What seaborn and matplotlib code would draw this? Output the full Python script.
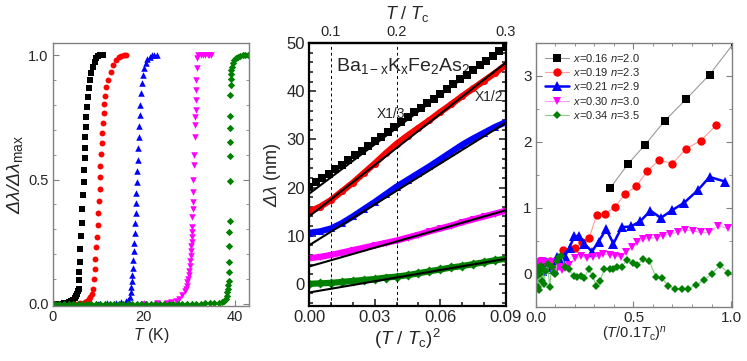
import matplotlib
matplotlib.use("Agg")
import matplotlib.pyplot as plt
import seaborn as sns
from matplotlib.ticker import MultipleLocator

# ---- left panel: normalised transitions, T (K) vs dlambda/dlambda_max ----
t_blk = [0.5, 1.5, 2.5, 3.0, 3.5, 4.0, 4.4, 4.8, 5.1, 5.4,
         5.6, 5.7, 5.8, 5.8, 6.0, 6.1, 6.2, 6.4, 6.5, 6.6,
         6.8, 6.9, 7.0, 7.1, 7.2, 7.3, 7.4, 7.5, 7.7, 7.9,
         8.2, 8.5, 8.8, 9.2, 9.6, 10.0, 10.5, 11.0]
y_blk = [0.0, 0.0, 0.002, 0.004, 0.007, 0.011, 0.016, 0.022, 0.03, 0.04,
         0.05, 0.06, 0.096, 0.127, 0.167, 0.218, 0.271, 0.324, 0.38, 0.436,
         0.49, 0.54, 0.587, 0.627, 0.67, 0.71, 0.753, 0.793, 0.833, 0.87,
         0.9, 0.93, 0.955, 0.975, 0.99, 0.997, 1.0, 1.0]
t_red = [5.0, 6.0, 7.0, 7.5, 8.0, 8.3, 8.6, 8.9, 9.1, 9.3,
         9.4, 9.6, 9.7, 9.9, 10.0, 10.1, 10.3, 10.4, 10.5, 10.7,
         10.8, 10.9, 11.0, 11.2, 11.3, 11.5, 11.8, 12.2, 12.7, 13.3,
         14.0, 14.6, 15.1, 15.6, 16.2]
y_red = [0.0, 0.002, 0.005, 0.01, 0.018, 0.028, 0.04, 0.06, 0.1, 0.14,
         0.18, 0.227, 0.27, 0.316, 0.364, 0.413, 0.463, 0.51, 0.556, 0.603,
         0.647, 0.687, 0.727, 0.767, 0.803, 0.837, 0.873, 0.903, 0.933, 0.96,
         0.98, 0.992, 0.997, 1.0, 1.0]
t_blu = [10.0, 12.0, 14.0, 15.0, 16.0, 16.6, 17.0, 17.2, 17.3, 17.4,
         17.5, 17.6, 17.7, 17.8, 17.9, 18.0, 18.1, 18.2, 18.3, 18.4,
         18.5, 18.6, 18.7, 18.8, 18.9, 19.0, 19.1, 19.2, 19.4, 19.6,
         19.8, 20.1, 20.4, 20.8, 21.3, 21.8, 22.3, 22.8]
y_blu = [0.0, 0.001, 0.003, 0.006, 0.01, 0.016, 0.025, 0.045, 0.065, 0.09,
         0.115, 0.145, 0.175, 0.21, 0.245, 0.285, 0.325, 0.365, 0.405, 0.445,
         0.49, 0.535, 0.58, 0.625, 0.67, 0.715, 0.76, 0.8, 0.85, 0.89,
         0.92, 0.95, 0.97, 0.985, 0.995, 1.0, 1.0, 1.0]
t_mag = [20.0, 23.0, 25.0, 26.0, 27.0, 27.8, 28.5, 29.0, 29.2, 29.4,
         29.55, 29.7, 29.85, 30.0, 30.1, 30.2, 30.3, 30.35, 30.45, 30.5,
         30.55, 30.6, 30.65, 30.7, 30.75, 30.8, 30.85, 30.9, 30.95, 31.0,
         31.25, 31.3, 31.35, 31.4, 31.45, 31.5, 31.55, 31.6, 31.7, 32.0,
         32.5, 33.0, 33.5, 34.0, 34.4, 34.8]
y_mag = [0.0, 0.001, 0.003, 0.006, 0.01, 0.02, 0.035, 0.05, 0.06, 0.07,
         0.085, 0.1, 0.115, 0.13, 0.15, 0.17, 0.19, 0.21, 0.23, 0.25,
         0.27, 0.29, 0.31, 0.35, 0.38, 0.41, 0.45, 0.5, 0.56, 0.6,
         0.67, 0.72, 0.75, 0.78, 0.82, 0.86, 0.9, 0.95, 0.99, 1.0,
         1.0, 1.0, 1.0, 1.0, 1.0, 1.0]
t_grn = [0.5, 1.5, 2.5, 3.5, 4.5, 5.5, 6.5, 7.5, 8.5, 9.5,
         10.5, 11.5, 12.5, 13.5, 14.5, 15.5, 16.5, 17.5, 18.5, 19.5,
         20.5, 21.5, 22.5, 23.5, 24.5, 25.5, 26.5, 27.5, 28.5, 29.5,
         30.5, 31.5, 32.5, 33.5, 34.5, 35.5, 36.5,
         37.2, 37.7, 38.0, 38.2, 38.35, 38.5, 38.6, 38.65, 38.7, 38.75,
         38.8, 38.8, 38.85, 38.9, 38.9, 38.95, 39.0, 39.0, 39.0, 39.05,
         39.1, 39.15, 39.2, 39.3, 39.5, 39.8, 40.2, 40.7, 41.2, 41.7,
         42.2, 42.8]
y_grn = [0.0, 0.0, 0.0, 0.0, 0.0, 0.0, 0.0, 0.0, 0.0, 0.0,
         0.0, 0.0, 0.0, 0.0, 0.0, 0.0, 0.0, 0.0, 0.0, 0.0,
         0.0, 0.0, 0.0, 0.0, 0.0, 0.0, 0.0, 0.0, 0.0, 0.0,
         0.0, 0.0, 0.0, 0.001, 0.001, 0.002, 0.004,
         0.006, 0.012, 0.02, 0.03, 0.045, 0.06, 0.075, 0.09, 0.127, 0.167,
         0.233, 0.287, 0.333, 0.493, 0.593, 0.653, 0.707, 0.756, 0.84, 0.88,
         0.905, 0.925, 0.94, 0.955, 0.97, 0.98, 0.99, 0.995, 0.998, 1.0,
         1.0, 1.0]

# ---- middle panel: dlambda (nm) vs (T/Tc)^2 ----
x_sq = [0.000, 0.003, 0.006, 0.009, 0.012, 0.015, 0.018, 0.021, 0.024, 0.027,
        0.030, 0.033, 0.036, 0.039, 0.042, 0.045, 0.048, 0.051, 0.054, 0.057,
        0.060, 0.063, 0.066, 0.069, 0.072, 0.075, 0.078, 0.081, 0.084, 0.087,
        0.090]
dl_blk = [20.2, 21.1, 22.0, 22.9, 23.8, 24.7, 25.7, 26.7, 27.6, 28.6,
          29.7, 30.6, 31.6, 32.6, 33.6, 34.6, 35.6, 36.5, 37.5, 38.5,
          39.5, 40.5, 41.5, 42.5, 43.4, 44.4, 45.4, 46.3, 47.3, 48.3,
          49.3]
x_dense = [0.0, 0.005, 0.01, 0.015, 0.02, 0.025, 0.03, 0.035, 0.04, 0.045,
           0.05, 0.055, 0.06, 0.065, 0.07, 0.075, 0.08, 0.085, 0.09]
dl_red = [15.0, 16.0, 17.4, 19.2, 21.0, 23.0, 25.0, 27.1, 29.1, 30.8,
          32.4, 34.0, 35.7, 37.3, 39.0, 40.6, 42.2, 43.8, 45.5]
dl_blu = [10.6, 10.9, 11.5, 12.6, 14.0, 15.5, 17.0, 18.6, 20.2, 21.6,
          23.0, 24.4, 25.9, 27.4, 28.9, 30.2, 31.4, 32.6, 33.6]
dl_mag = [5.3, 5.6, 6.0, 6.5, 7.0, 7.5, 8.0, 8.5, 9.0, 9.6,
          10.2, 10.9, 11.5, 12.1, 12.8, 13.4, 14.0, 14.6, 15.2]
dl_grn = [0.0, 0.1, 0.2, 0.4, 0.6, 0.8, 1.0, 1.3, 1.5, 1.8,
          2.2, 2.6, 3.0, 3.4, 3.7, 4.1, 4.5, 4.9, 5.2]
fit_x = [0.0, 0.09]
fit_start = [18.7, 14.0, 8.0, 3.6, -1.8]
fit_end = [49.5, 46.0, 33.5, 15.3, 5.2]
guide_x = [0.01, 0.04]
top_pos = [0.01, 0.04, 0.09]
top_labels = ["0.1", "0.2", "0.3"]

# ---- right panel: residual vs (T/0.1Tc)^n ----
legend_labels = [r"$x$=0.16 $n$=2.0",
                 r"$x$=0.19 $n$=2.3",
                 r"$x$=0.21 $n$=2.9",
                 r"$x$=0.30 $n$=3.0",
                 r"$x$=0.34 $n$=3.5"]
r_x_blk = [0.38, 0.47, 0.56, 0.66, 0.77, 0.89, 1.02]
r_y_blk = [1.30, 1.66, 1.96, 2.32, 2.65, 3.02, 3.52]
r_x_red = [0.07, 0.10, 0.14, 0.20, 0.235, 0.273, 0.312, 0.355, 0.406, 0.457,
           0.514, 0.571, 0.633, 0.699, 0.77, 0.845, 0.922]
r_y_red = [0.2, 0.2, 0.36, 0.39, 0.48, 0.55, 0.9, 0.91, 1.02, 1.21,
           1.33, 1.56, 1.73, 1.67, 1.9, 2.02, 2.25]
r_x_blu = [0.01, 0.03, 0.05, 0.07, 0.09, 0.11, 0.13, 0.15, 0.172, 0.196,
           0.222, 0.248, 0.287, 0.321, 0.36, 0.397, 0.44, 0.487, 0.535, 0.587,
           0.64, 0.70, 0.76, 0.83, 0.89, 0.97]
r_y_blu = [0.12, 0.05, 0.18, 0.10, 0.08, 0.26, 0.22, 0.28, 0.40, 0.57,
           0.58, 0.46, 0.34, 0.49, 0.68, 0.46, 0.71, 0.72, 0.80, 0.96,
           0.85, 0.97, 1.08, 1.27, 1.47, 1.40]
r_x_mag = [0.005, 0.015, 0.03, 0.045, 0.06, 0.075, 0.09, 0.105, 0.12, 0.135,
           0.15, 0.167, 0.20, 0.23, 0.261, 0.292, 0.321, 0.346, 0.377, 0.406,
           0.435, 0.46, 0.49, 0.52, 0.551, 0.582, 0.618, 0.65, 0.688, 0.727,
           0.764, 0.807, 0.846, 0.889, 0.935, 0.983]
r_y_mag = [0.18, 0.15, 0.20, 0.16, 0.12, 0.18, 0.08, 0.05, 0.10, 0.06,
           0.09, 0.14, 0.24, 0.27, 0.24, 0.26, 0.28, 0.30, 0.29, 0.28,
           0.26, 0.33, 0.41, 0.49, 0.53, 0.54, 0.55, 0.58, 0.61, 0.63,
           0.67, 0.65, 0.63, 0.63, 0.73, 0.69]
r_x_grn = [0.0, 0.004, 0.008, 0.012, 0.016, 0.02, 0.025, 0.03, 0.035, 0.04,
           0.05, 0.06, 0.07, 0.08, 0.09, 0.10, 0.11, 0.12, 0.13, 0.15,
           0.167, 0.193, 0.21, 0.23, 0.247, 0.27, 0.292, 0.309, 0.329, 0.35,
           0.377, 0.397, 0.418, 0.44, 0.466, 0.497, 0.52, 0.551, 0.582, 0.614,
           0.645, 0.679, 0.713, 0.748, 0.781, 0.821, 0.862, 0.901, 0.944, 0.986]
r_y_grn = [-0.05, 0.1, -0.2, 0.05, -0.25, 0.0, 0.12, -0.1, 0.08, -0.15,
           0.05, 0.15, -0.2, 0.1, 0.02, 0.0, 0.2, 0.26, 0.28, 0.11,
           0.07, -0.03, -0.05, -0.03, -0.06, 0.07, -0.03, -0.18, -0.1, 0.07,
           0.08, 0.08, 0.11, 0.11, 0.21, 0.16, 0.14, 0.23, 0.19, -0.04,
           -0.06, -0.18, -0.22, -0.23, -0.22, -0.17, -0.09, 0.0, 0.13, 0.02]

colors = ["#000000", "#ff0000", "#0000ff", "#ff00ff", "#008000"]
line_colors = ["#9a9a9a", "#ff9c9c", "#0000ff", "#ff9cff", "#8cc88c"]
markers = ["s", "o", "^", "v", "D"]
GRAY = "#808080"

sns.set_style("ticks")
plt.rcParams["font.family"] = ["Liberation Sans", "DejaVu Sans"]
plt.rcParams["mathtext.fontset"] = "custom"
plt.rcParams["mathtext.rm"] = "Liberation Sans:italic"
plt.rcParams["mathtext.it"] = "Liberation Sans:italic"
plt.rcParams["mathtext.sf"] = "Liberation Sans"

fig = plt.figure(figsize=(7.47, 3.61), dpi=100)
ax1 = fig.add_axes([0.0705, 0.1537, 0.2628, 0.727])
ax2 = fig.add_axes([0.4137, 0.1524, 0.2637, 0.728])
ax3 = fig.add_axes([0.7175, 0.1496, 0.2624, 0.7313])

# left
left = [(t_blk, y_blk), (t_red, y_red), (t_blu, y_blu), (t_mag, y_mag),
        (t_grn, y_grn)]
sizes = [16, 18, 22, 22, 14]
for (t, y), c, m, s in zip(left, colors, markers, sizes):
    sns.scatterplot(x=t, y=y, color=c, marker=m, s=s, linewidth=0,
                    ax=ax1, legend=False)
ax1.set_xlim(0, 43.1)
ax1.set_ylim(-0.008, 1.05)
ax1.set_xticks([0, 20, 40])
ax1.set_yticks([0.0, 0.5, 1.0])
ax1.yaxis.set_minor_locator(MultipleLocator(0.1))
ax1.tick_params(which="both", direction="in", left=True, right=True,
                top=False, color=GRAY, labelsize=10.5, pad=3)
ax1.tick_params(which="major", length=4)
ax1.tick_params(which="minor", length=2.5)
for sp in ax1.spines.values():
    sp.set_color(GRAY)
    sp.set_linewidth(1.0)
ax1.set_xlabel(r"$T$ (K)", fontsize=11.5, labelpad=2)
ax1.set_ylabel(r"$\Delta\lambda/\Delta\lambda_{\mathsf{max}}$", fontsize=14,
               labelpad=2)

# middle
dense = [dl_red, dl_blu, dl_mag, dl_grn]
for dl, c, m in zip(dense, colors[1:], markers[1:]):
    sns.lineplot(x=x_dense, y=dl, color=c, linewidth=4.5, estimator=None,
                 sort=False, ax=ax2)
    sns.scatterplot(x=x_dense, y=dl, color=c, marker=m, s=26, linewidth=0,
                    ax=ax2, legend=False)
for a, b in zip(fit_start, fit_end):
    sns.lineplot(x=fit_x, y=[a, b], color="k", linewidth=1.5,
                 estimator=None, sort=False, ax=ax2)
sns.scatterplot(x=x_sq, y=dl_blk, color="k", marker="s", s=30, linewidth=0,
                ax=ax2, legend=False, zorder=4)
for gx in guide_x:
    ax2.axvline(gx, color="k", linewidth=0.7, linestyle=(0, (3, 3)))
ax2.set_xlim(0, 0.09)
ax2.set_ylim(-4.6, 50)
ax2.set_xticks([0.0, 0.03, 0.06, 0.09], labels=["0.00", "0.03", "0.06", "0.09"])
ax2.set_yticks([0, 10, 20, 30, 40, 50])
ax2.xaxis.set_minor_locator(MultipleLocator(0.01))
ax2.yaxis.set_minor_locator(MultipleLocator(2))
ax2.tick_params(which="both", direction="in", left=True, right=True,
                top=False, width=1.2, labelsize=12, pad=3)
ax2.tick_params(which="major", length=5)
ax2.tick_params(which="minor", length=3)
for sp in ax2.spines.values():
    sp.set_linewidth(1.6)
    sp.set_color("k")
ax2.set_xlabel(r"$\mathsf{(}T\mathsf{\ /\ }T_\mathsf{c}\mathsf{)}^\mathsf{2}$",
               fontsize=13.5, labelpad=1)
ax2.set_ylabel(r"$\Delta\lambda$ (nm)", fontsize=13, labelpad=2)
sec = ax2.secondary_xaxis("top")
sec.set_xticks(top_pos, labels=top_labels)
sec.tick_params(length=0, labelsize=10.5, pad=3)
sec.spines["top"].set_linewidth(1.6)
sec.set_xlabel(r"$T\mathsf{\ /\ }T_\mathsf{c}$", fontsize=13, labelpad=4)
ax2.text(0.0125, 44.2,
         r"$\mathsf{Ba}_{\mathsf{1-x}}\mathsf{K}_\mathsf{x}\mathsf{Fe}_\mathsf{2}"
         r"\mathsf{As}_\mathsf{2}$", fontsize=14, va="baseline")
ax2.text(0.031, 34.4, "X1/3", fontsize=10, va="baseline")
ax2.text(0.0758, 37.9, "X1/2", fontsize=10, va="baseline")

# right
right = [(r_x_blk, r_y_blk), (r_x_red, r_y_red), (r_x_blu, r_y_blu),
         (r_x_mag, r_y_mag), (r_x_grn, r_y_grn)]
msizes = [5.5, 6, 7, 5.5, 4.5]
lwidths = [0.8, 0.8, 1.8, 0.8, 0.8]
for (x, y), c, lc, m, ms, lw, lab in zip(right, colors, line_colors, markers,
                                        msizes, lwidths, legend_labels):
    sns.lineplot(x=x, y=y, color=lc, linewidth=lw, marker=m, markersize=ms,
                 markerfacecolor=c, markeredgecolor=c, markeredgewidth=0,
                 estimator=None, sort=False, ax=ax3, label=lab)
ax3.set_xlim(0, 1.005)
ax3.set_ylim(-0.5, 3.5)
ax3.set_xticks([0.0, 0.5, 1.0], labels=["0.0", "0.5", "1.0"])
ax3.set_yticks([0, 1, 2, 3])
ax3.xaxis.set_minor_locator(MultipleLocator(0.1))
ax3.yaxis.set_minor_locator(MultipleLocator(0.5))
ax3.tick_params(which="both", direction="in", left=True, right=True,
                top=True, bottom=True, color=GRAY, labelsize=11, pad=3)
ax3.tick_params(which="major", length=4)
ax3.tick_params(which="minor", length=2.5)
for sp in ax3.spines.values():
    sp.set_color(GRAY)
    sp.set_linewidth(1.0)
ax3.set_xlabel(r"$\mathsf{(}T\mathsf{/0.1}T_\mathsf{c}\mathsf{)}^n$",
               fontsize=10.5, labelpad=0)
ax3.set_ylabel("")
ax3.legend(loc="upper left", frameon=False, fontsize=8, handlelength=2.2,
           handletextpad=0.3, labelspacing=0.2, borderaxespad=0.4)

fig.savefig("out.png", dpi=100)
